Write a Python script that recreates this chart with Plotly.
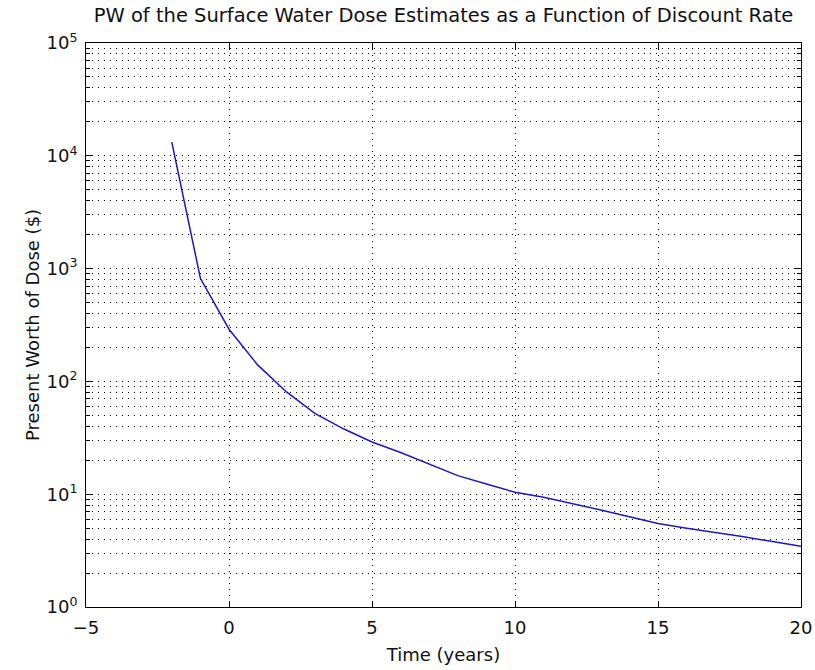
import plotly.graph_objects as go

time_years = [-2, -1, 0, 1, 2, 3, 4, 5, 6, 7, 8, 9, 10, 11, 12, 13, 14, 15, 16, 17, 18, 19, 20]
pw_dose = [13200, 820, 290, 140, 81, 52, 38, 29, 23.4, 18.4, 14.6, 12.3, 10.4,
           9.4, 8.3, 7.25, 6.3, 5.5, 5.0, 4.6, 4.2, 3.8, 3.45]

y_tick_vals = [1, 10, 100, 1000, 10000, 100000]
y_tick_text = ["10<sup>0</sup>", "10<sup>1</sup>", "10<sup>2</sup>",
               "10<sup>3</sup>", "10<sup>4</sup>", "10<sup>5</sup>"]

title_text = "PW of the Surface Water Dose Estimates as a Function of Discount Rate"
x_title = "Time (years)"
y_title = "Present Worth of Dose ($)"

font_family = "DejaVu Sans, Liberation Sans, Arial, sans-serif"

fig = go.Figure()
fig.add_trace(go.Scatter(x=time_years, y=pw_dose, mode="lines",
                         line=dict(color="rgb(25,25,200)", width=1.5),
                         showlegend=False))

grid_dash = "1px,5px"

fig.update_layout(
    width=815, height=670,
    paper_bgcolor="white", plot_bgcolor="white",
    margin=dict(l=86, r=14, t=43, b=63, autoexpand=False),
    font=dict(family=font_family, size=18, color="#111111"),
    title=dict(text=title_text, x=0.5, xref="paper", xanchor="center",
               yref="container", y=1 - 8 / 670, yanchor="top",
               automargin=False,
               font=dict(size=19.5, family=font_family, color="#111111")),
    xaxis=dict(
        range=[-5, 20], dtick=5, tick0=0, automargin=False,
        showline=True, linecolor="black", linewidth=1, mirror="allticks",
        ticks="inside", ticklen=6, tickcolor="black",
        showgrid=True, gridcolor="black", gridwidth=1, griddash=grid_dash,
        zeroline=False, ticklabelstandoff=4, ticklabeloverflow="allow",
        title=dict(text=x_title, standoff=11, font=dict(size=18)),
        tickfont=dict(size=18),
    ),
    yaxis=dict(
        type="log", range=[0, 5], automargin=False,
        tickmode="array", tickvals=y_tick_vals, ticktext=y_tick_text,
        showline=True, linecolor="black", linewidth=1, mirror="allticks",
        ticks="inside", ticklen=6, tickcolor="black",
        showgrid=True, gridcolor="black", gridwidth=1, griddash=grid_dash,
        zeroline=False, ticklabelstandoff=4, ticklabeloverflow="allow",
        minor=dict(dtick="D1", ticks="inside", ticklen=4, tickcolor="black",
                   showgrid=True, gridcolor="black", gridwidth=1, griddash=grid_dash),
        title=dict(text=y_title, standoff=2, font=dict(size=18)),
        tickfont=dict(size=18),
    ),
)

fig.write_html("out.html", config={"displayModeBar": False},
               post_script="document.body.style.margin='0';document.body.style.overflow='hidden';")
